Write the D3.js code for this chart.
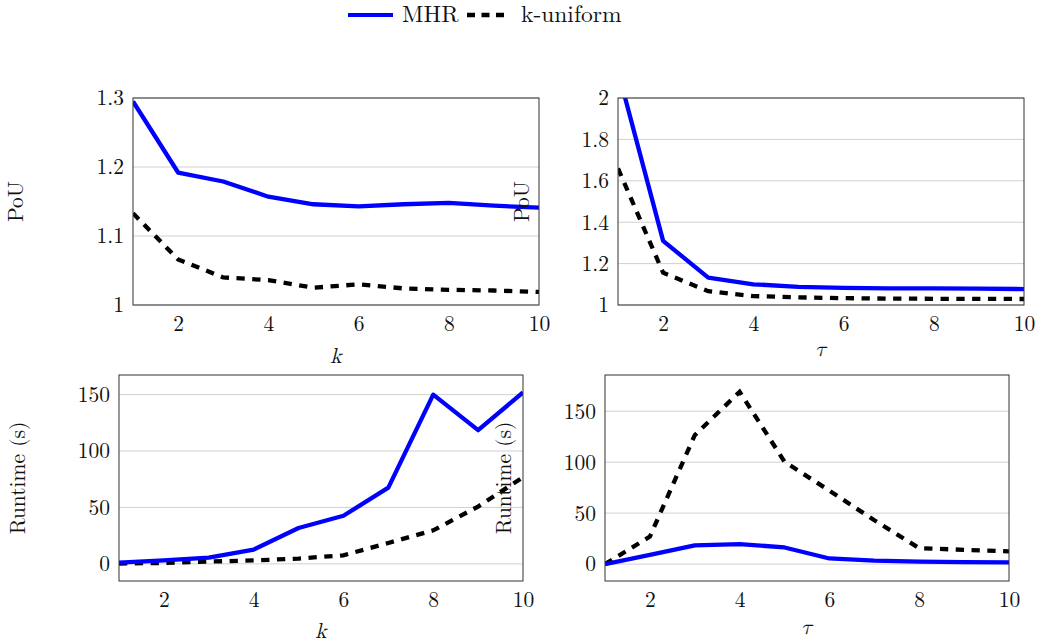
<!DOCTYPE html>
<html>
<head>
<meta charset="utf-8">
<script src="https://cdn.jsdelivr.net/npm/d3@7"></script>
<style>
  body { margin: 0; background: #fff; }
</style>
</head>
<body>
<svg id="chart" width="1046" height="643"></svg>
<script>
// x values shared by every panel
const xs = [1, 2, 3, 4, 5, 6, 7, 8, 9, 10];
const xTicks = [2, 4, 6, 8, 10];

// PoU vs k
const pouK_mhr  = [1.295, 1.192, 1.179, 1.157, 1.146, 1.143, 1.146, 1.148, 1.144, 1.141];
const pouK_unif = [1.133, 1.066, 1.040, 1.036, 1.025, 1.030, 1.024, 1.022, 1.021, 1.019];
const pouK_ticks = [1, 1.1, 1.2, 1.3];

// PoU vs tau
const pouT_mhr  = [2.13, 1.31, 1.132, 1.100, 1.088, 1.083, 1.080, 1.080, 1.079, 1.077];
const pouT_unif = [1.66, 1.156, 1.067, 1.043, 1.037, 1.033, 1.031, 1.030, 1.030, 1.029];
const pouT_ticks = [1, 1.2, 1.4, 1.6, 1.8, 2];

// Runtime vs k
const rtK_mhr  = [1, 3, 5.5, 12.6, 31.8, 42.6, 67.6, 150, 118.5, 152];
const rtK_unif = [0.3, 0.8, 2, 3, 4.7, 7.6, 18.5, 29.7, 50.8, 76.8];
const rtK_ticks = [0, 50, 100, 150];

// Runtime vs tau
const rtT_mhr  = [0, 9, 18.3, 19.6, 16.3, 5.5, 3.3, 2.5, 2, 1.6];
const rtT_unif = [0, 27, 126.5, 169, 100.4, 72, 43, 15.6, 14, 12.4];
const rtT_ticks = [0, 50, 100, 150];

const svg = d3.select("#chart");
const fontSize = "21.5px";
const serif = '"Latin Modern Roman", "Liberation Serif", serif';
const mathFont = '"Latin Modern Math", "Latin Modern Roman", "Liberation Serif", serif';
const dash = "8.3,7.5";

// legend
const legend = svg.append("g");
legend.append("line").attr("x1", 348).attr("x2", 393).attr("y1", 15).attr("y2", 15)
      .attr("stroke", "#0000ff").attr("stroke-width", 4);
legend.append("text").attr("x", 402).attr("y", 22)
      .style("font-family", serif).style("font-size", "23.5px").style("fill", "#111")
      .text("MHR");
legend.append("line").attr("x1", 467).attr("x2", 505).attr("y1", 15).attr("y2", 15)
      .attr("stroke", "#000").attr("stroke-width", 4.5).attr("stroke-dasharray", "8,6.5");
legend.append("text").attr("x", 521).attr("y", 22)
      .style("font-family", serif).style("font-size", "23.5px").style("fill", "#111")
      .text("k-uniform");

function drawPanel(id, p) {
    const g = svg.append("g").attr("transform", `translate(${p.left},${p.top})`);

    const x = d3.scaleLinear().domain([1, 10]).range([0, p.width]);
    const y = d3.scaleLinear().domain(p.yDomain).range([p.height, 0]);

    // grid
    g.selectAll(".grid")
     .data(p.yTicks)
     .enter()
     .append("line")
     .attr("x1", 0).attr("x2", p.width)
     .attr("y1", d => y(d)).attr("y2", d => y(d))
     .attr("stroke", "#d0d0d0").attr("stroke-width", 1);

    // axes
    const ax = g.append("g")
                .attr("transform", `translate(0,${p.height})`)
                .call(d3.axisBottom(x).tickValues(xTicks).tickSize(0).tickPadding(11));
    const ay = g.append("g")
                .call(d3.axisLeft(y).tickValues(p.yTicks).tickSize(0).tickPadding(9)
                      .tickFormat(d => String(d)));
    [ax, ay].forEach(a => {
        a.select(".domain").remove();
        a.selectAll("text")
         .style("font-family", serif)
         .style("font-size", fontSize)
         .style("fill", "#111");
    });
    ax.selectAll("text").attr("dy", "0.71em");

    // lines clipped to frame
    g.append("clipPath").attr("id", id)
     .append("rect").attr("width", p.width).attr("height", p.height);

    const line = d3.line().x((d, i) => x(xs[i])).y(d => y(d));
    const lines = g.append("g").attr("clip-path", `url(#${id})`);

    lines.append("path").datum(p.unif)
         .attr("d", line).attr("fill", "none")
         .attr("stroke", "#000").attr("stroke-width", 4.3)
         .attr("stroke-dasharray", dash);

    lines.append("path").datum(p.mhr)
         .attr("d", line).attr("fill", "none")
         .attr("stroke", "#0000ff").attr("stroke-width", 4.3)
         .attr("stroke-linejoin", "round");

    // frame
    g.append("rect").attr("width", p.width).attr("height", p.height)
     .attr("fill", "none").attr("stroke", "#333").attr("stroke-width", 1);

    // labels
    svg.append("text")
       .attr("transform", `translate(${p.yLabelX},${p.top + p.height / 2}) rotate(-90)`)
       .attr("text-anchor", "middle")
       .style("font-family", serif)
       .style("font-size", fontSize)
       .style("fill", "#111")
       .text(p.yLabel);

    svg.append("text")
       .attr("x", p.left + p.width / 2)
       .attr("y", p.xLabelY)
       .attr("text-anchor", "middle")
       .style("font-family", mathFont)
       .style("font-size", fontSize)
       .style("font-style", "italic")
       .style("fill", "#111")
       .text(p.xLabel);
}

drawPanel("c1", {left: 133, top: 98, width: 406, height: 207, yDomain: [1, 1.3],
                 yTicks: pouK_ticks, mhr: pouK_mhr, unif: pouK_unif,
                 yLabel: "PoU", yLabelX: 23, xLabel: "k", xLabelY: 363});

drawPanel("c2", {left: 618, top: 98, width: 406, height: 207, yDomain: [1, 2],
                 yTicks: pouT_ticks, mhr: pouT_mhr, unif: pouT_unif,
                 yLabel: "PoU", yLabelX: 529, xLabel: "τ", xLabelY: 356});

drawPanel("c3", {left: 119, top: 375, width: 404, height: 206, yDomain: [-15.2, 167.4],
                 yTicks: rtK_ticks, mhr: rtK_mhr, unif: rtK_unif,
                 yLabel: "Runtime (s)", yLabelX: 25, xLabel: "k", xLabelY: 638});

drawPanel("c4", {left: 605, top: 375, width: 404, height: 206, yDomain: [-16.6, 185.5],
                 yTicks: rtT_ticks, mhr: rtT_mhr, unif: rtT_unif,
                 yLabel: "Runtime (s)", yLabelX: 511, xLabel: "τ", xLabelY: 634});
</script>
</body>
</html>
